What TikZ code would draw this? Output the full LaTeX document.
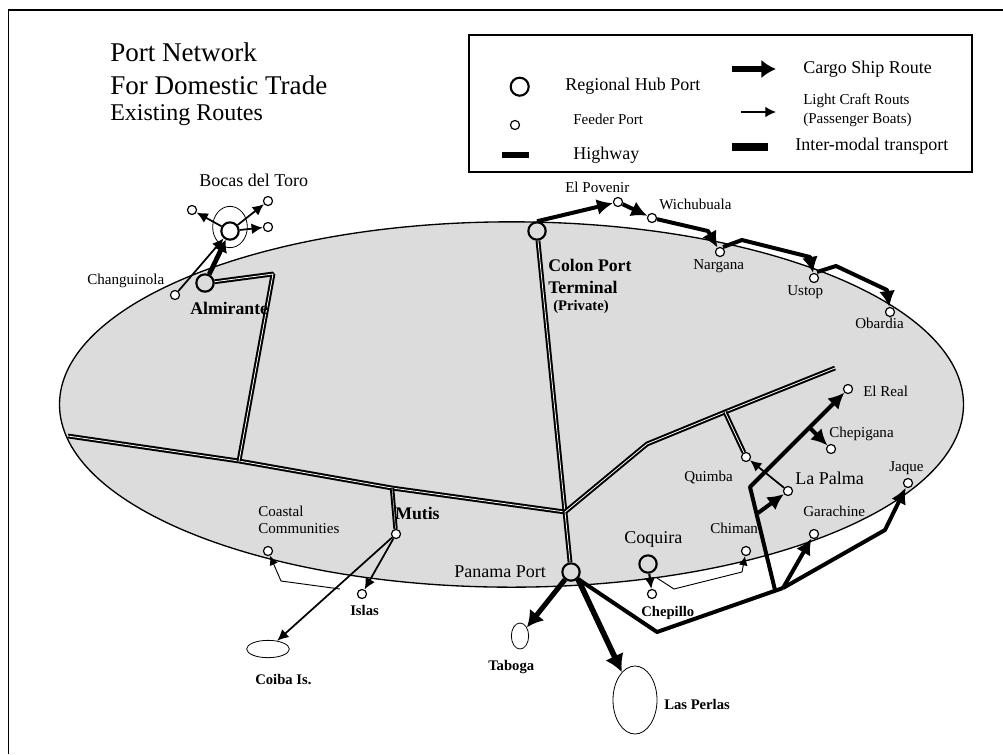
\documentclass[tikz,border=0pt]{standalone}
\usepackage{fontspec}
\setmainfont{Liberation Serif}
\usetikzlibrary{arrows.meta,shapes.geometric,backgrounds}
\definecolor{landgray}{RGB}{220,220,220}
\tikzset{
  hub/.style={circle,draw,fill=landgray,line width=1.6pt,inner sep=0pt,minimum size=13pt},
  feeder/.style={circle,draw,fill=white,line width=0.9pt,inner sep=0pt,minimum size=6.8pt},
  lbl/.style={anchor=west,inner sep=0pt,font=\fontsize{11.3}{13}\selectfont},
  lblsb/.style={lbl,font=\fontsize{11}{13}\bfseries\selectfont},
  lblb/.style={lbl,font=\fontsize{13.3}{15}\bfseries\selectfont},
  lblbig/.style={lbl,font=\fontsize{13.5}{16}\selectfont},
  island/.style={ellipse,draw,line width=0.6pt,inner sep=0pt},
  light/.style={line width=1.3pt,-{Latex[length=8.5pt,width=8pt]}},
  lightline/.style={line width=0.7pt,-{Latex[length=7pt,width=6.5pt]}},
  cargo/.style={line width=3pt,line join=bevel,-{Latex[length=12pt,width=12pt]}},
  heavy/.style={line width=4.2pt,-{Latex[length=13pt,width=15pt]}},
  highway/.style={double=white,double distance=0.6pt,line width=1.5pt,line join=bevel},
}
\begin{document}
\begin{tikzpicture}[x=0.75pt,y=-0.75pt]
\useasboundingbox (0,0) rectangle (1003,754);
\draw[line width=0.9pt] (1003,10) -- (8.5,10) -- (8.5,754);
% title
\node[lbl,font=\fontsize{20.3}{22}\selectfont] (title1) at (110,52) {Port Network};
\node[lbl,font=\fontsize{20.3}{22}\selectfont] (title2) at (110,85) {For Domestic Trade};
\node[lbl,font=\fontsize{18}{20}\selectfont] (title3) at (110,115) {Existing Routes};
% legend
\draw[line width=1.4pt] (469,35) rectangle (972,172);
\node[hub,fill=white,minimum size=13.5pt] (keyhub) at (519.7,86.7) {};
\node[lblbig] (keyhubtxt) at (565,86) {Regional Hub Port};
\node[feeder] (keyfeeder) at (515,125) {};
\node[lbl] (keyfeedertxt) at (573,119) {Feeder Port};
\coordinate (keyhwa) at (502,155);
\coordinate (keyhwb) at (529,155);
\draw[line width=3.8pt] (keyhwa) -- (keyhwb);
\node[lblbig] (keyhwtxt) at (573,155) {Highway};
\coordinate (keycargoa) at (732,69);
\coordinate (keycargob) at (776,69);
\draw[line width=3.8pt,-{Latex[length=11pt,width=14pt]}] (keycargoa) -- (keycargob);
\node[lblbig] (keycargotxt) at (803,69) {Cargo Ship Route};
\coordinate (keylighta) at (741,112);
\coordinate (keylightb) at (776,112);
\draw[light,line width=0.9pt,-{Latex[length=8pt,width=8pt]}] (keylighta) -- (keylightb);
\node[lbl] (keylighttxt) at (803,101) {Light Craft Routs};
\node[lbl] (keylighttxtb) at (803,120) {(Passenger Boats)};
\coordinate (keyintera) at (732,147);
\coordinate (keyinterb) at (768,147);
\draw[line width=6.4pt] (keyintera) -- (keyinterb);
\node[lblbig] (keyintertxt) at (795,146) {Inter-modal transport};
% ports
\node[hub,fill=white] (bocas) at (230,231) {};
\node[hub] (almirante) at (205,283) {};
\node[hub] (colon) at (537,231) {};
\node[hub] (panama) at (571,572) {};
\node[hub] (coquira) at (648,564) {};
\node[feeder] (bocasnw) at (192,210) {};
\node[feeder] (bocasne) at (268,201) {};
\node[feeder] (bocase) at (268,227) {};
\node[feeder] (changuinola) at (175,295) {};
\node[feeder] (povenir) at (618,202) {};
\node[feeder] (wichubuala) at (652,218) {};
\node[feeder] (nargana) at (720,252) {};
\node[feeder] (ustop) at (814,278) {};
\node[feeder] (obardia) at (890,312) {};
\node[feeder] (elreal) at (848,389) {};
\node[feeder] (chepigana) at (831,449) {};
\node[feeder] (quimba) at (746,457) {};
\node[feeder] (lapalma) at (788,491) {};
\node[feeder] (jaque) at (908,483) {};
\node[feeder] (garachine) at (814,534) {};
\node[feeder] (chiman) at (746,551) {};
\node[feeder] (chepillo) at (652,594) {};
\node[feeder] (mutis) at (396,534) {};
\node[feeder] (coastal) at (268,551) {};
\node[feeder] (islas) at (362,594) {};
\node[island,minimum width=32pt,minimum height=13pt] (coiba) at (268,649) {};
\node[island,minimum width=13pt,minimum height=19.5pt] (taboga) at (520,636) {};
\node[island,minimum width=33pt,minimum height=51pt] (perlas) at (635,700) {};
% highways
\coordinate (westend) at (68,436);
\coordinate (junction) at (565,512);
\coordinate (almbranch) at (239,461);
\coordinate (almbend) at (273,274);
\coordinate (mutisbranch) at (392,488);
\coordinate (eastbend) at (647,444);
\coordinate (eastend) at (835,368);
\coordinate (quimbabranch) at (725,412);
\begin{scope}[on background layer]
\node[ellipse,draw,fill=landgray,line width=1pt,inner sep=0pt,minimum width=678pt,minimum height=274pt] (land) at (511.5,404.5) {};
\draw[highway] (westend) -- (almbranch) -- (mutisbranch) -- (junction);
\draw[highway] (almirante) -- (almbend) -- (almbranch);
\draw[highway] (colon) -- (junction) -- (panama);
\draw[highway] (junction) -- (eastbend) -- (quimbabranch) -- (eastend);
\draw[highway] (quimbabranch) -- (quimba);
\draw[highway,double distance=0.3pt] (mutisbranch) -- (mutis);
\end{scope}
\node[island,minimum width=26pt,minimum height=31pt] (bocasisle) at (230,227) {};
% bocas routes
\draw[light] (bocas) -- (bocasnw);
\draw[light] (bocas) -- (bocasne);
\draw[light] (bocas) -- (bocase);
\draw[light] (changuinola) -- (bocas);
\draw[line width=3.6pt,-{Latex[length=9pt,width=11pt]}] (almirante) -- (bocas);
% north coast
\coordinate (wichubend) at (708,231);
\coordinate (nargstart) at (723,247);
\coordinate (nargbend) at (742,240);
\coordinate (ustopbend) at (810,257);
\coordinate (ustopstart) at (817,272);
\coordinate (obarbend) at (836,266);
\coordinate (obarbendb) at (887,290);
\draw[cargo] (colon.north) -- (povenir);
\draw[cargo] (povenir) -- (wichubuala);
\draw[cargo] (wichubuala) -- (wichubend) -- (nargana);
\draw[cargo] (nargstart) -- (nargbend) -- (ustopbend) -- (ustop);
\draw[cargo] (ustopstart) -- (obarbend) -- (obarbendb) -- (obardia);
% south coast
\coordinate (southa) at (657,632);
\coordinate (southb) at (783,588);
\coordinate (southc) at (885,530);
\coordinate (realfoot) at (775,590);
\coordinate (realbend) at (750,487);
\coordinate (chepifoot) at (810,428);
\coordinate (palmafoot) at (758,513);
\draw[cargo,-] (panama.-45) -- (southa) -- (southb);
\draw[cargo] (southb) -- (southc) -- (jaque);
\draw[cargo] (southb) -- (garachine);
\draw[cargo] (realfoot) -- (realbend) -- (elreal);
\draw[cargo] (chepifoot) -- (chepigana);
\draw[cargo] (palmafoot) -- (lapalma);
\draw[light] (lapalma) -- (quimba);
\draw[light,line width=1.6pt] (coquira) -- (chepillo);
\coordinate (chimana) at (657,578);
\coordinate (chimanb) at (674,589);
\coordinate (chimanc) at (742,572);
\draw[lightline] (chimana) -- (chimanb) -- (chimanc) -- (chiman);
% west and islands
\coordinate (coasta) at (340,589);
\coordinate (coastb) at (281,581);
\draw[lightline] (coasta) -- (coastb) -- (coastal);
\draw[light] (mutis) -- (islas);
\draw[light] (mutis) -- (coiba);
\draw[cargo,line width=3.8pt,-{Latex[length=12pt,width=14pt]}] (panama) -- (taboga);
\draw[heavy] (panama.-45) -- (perlas);
% labels
\node[lblbig] (bocastxt) at (199,180) {Bocas del Toro};
\node[lbl] (changtxt) at (87,281) {Changuinola};
\node[lblb] (almtxt) at (190,308) {Almirante};
\node[lblb] (colontxt) at (548,265) {Colon Port};
\node[lblb] (colontxtb) at (548,287) {Terminal};
\node[lblsb] (colontxtc) at (553,307) {(Private)};
\node[lbl] (povtxt) at (565,187) {El Povenir};
\node[lbl] (wichtxt) at (659,204) {Wichubuala};
\node[lbl] (nargtxt) at (693,266) {Nargana};
\node[lbl] (ustoptxt) at (787,292) {Ustop};
\node[lbl] (obartxt) at (855,323) {Obardia};
\node[lbl] (realtxt) at (863,391) {El Real};
\node[lbl] (chepitxt) at (829,434) {Chepigana};
\node[lbl] (quimbatxt) at (684,477) {Quimba};
\node[lblbig] (palmatxt) at (795,478) {La Palma};
\node[lbl] (jaquetxt) at (889,468) {Jaque};
\node[lbl] (garatxt) at (803,511) {Garachine};
\node[lbl] (chimantxt) at (710,528) {Chiman};
\node[lblbig] (coqtxt) at (624,539) {Coquira};
\node[lblsb] (chepilltxt) at (641,613) {Chepillo};
\node[lbl] (coasttxt) at (258,511) {Coastal};
\node[lbl] (coasttxtb) at (258,529) {Communities};
\node[lblb] (mutistxt) at (395,513) {Mutis};
\node[lblbig] (panatxt) at (454,572) {Panama Port};
\node[lblsb] (islastxt) at (350,610) {Islas};
\node[lblsb] (coibatxt) at (255,680) {Coiba Is.};
\node[lblsb] (tabogatxt) at (488,667) {Taboga};
\node[lblsb] (perlastxt) at (664,704) {Las Perlas};
\end{tikzpicture}
\end{document}
